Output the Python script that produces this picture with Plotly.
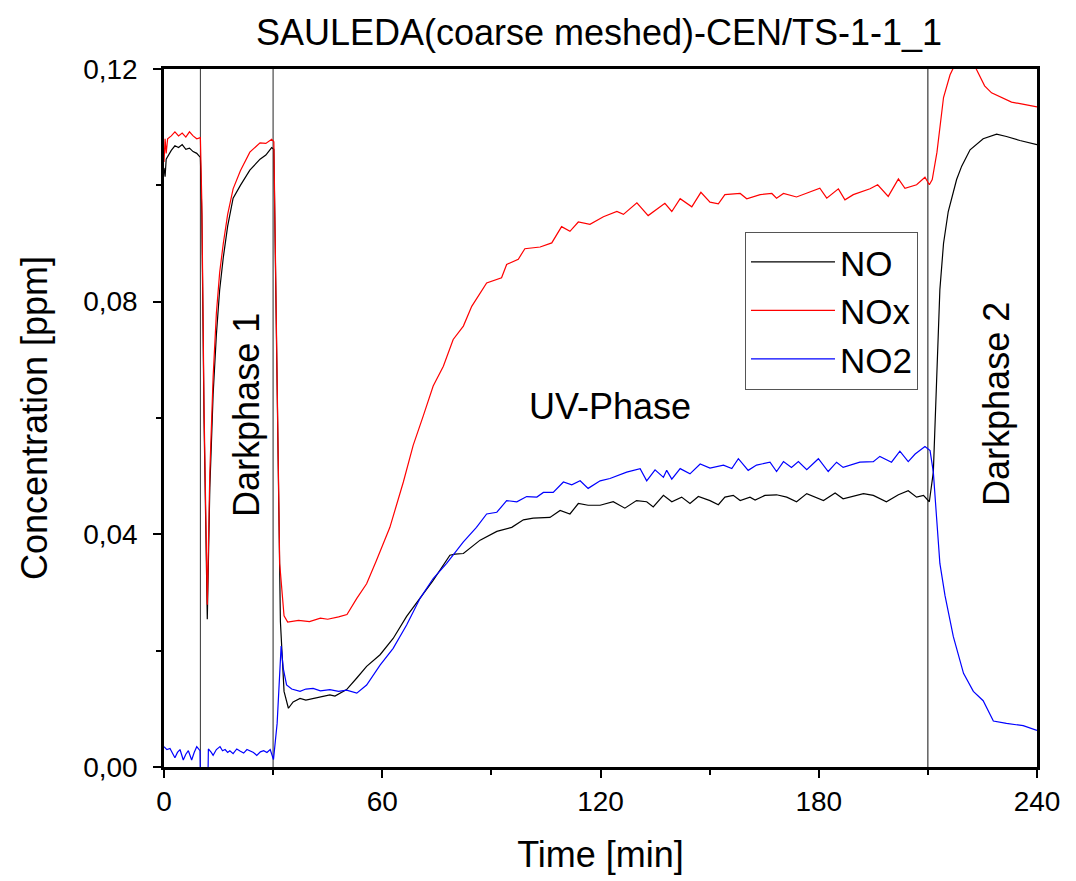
import plotly.graph_objects as go

# ---------------- data ----------------
t_no = [0, 0.3, 0.6, 1, 2, 3, 4, 5, 6, 7, 8, 9, 10, 10.4, 11, 11.9, 12.6, 13.5, 14.4, 15.3,
        16.3, 17.5, 19, 21, 23.6, 26.4, 28, 29.6, 30.2, 31, 32, 33, 34.2, 35.5, 37.4, 39, 41,
        43, 45.6, 47, 50.2, 53, 55.7, 59.4, 63, 66.7, 70.4, 74, 78.6, 80, 82.3, 86.9, 91.5,
        95.6, 98.8, 101.5, 106.1, 108.9, 111.6, 113.9, 116.6, 119.9, 123.5, 126.7, 129.9,
        132.7, 134.5, 137.3, 139.6, 142.3, 144.6, 146.9, 150.1, 152.4, 154.2, 156.5, 158.4,
        161.1, 162.5, 165.2, 168.4, 171.2, 173.9, 176.7, 181.3, 184.5, 186.7, 192.3, 195,
        198.6, 201.9, 204.6, 206.9, 208.8, 210.4, 211.5, 212.4, 213.3, 214.3, 215.6, 217.9,
        219.3, 221.6, 225.2, 228.9, 231.6, 235.3, 240]
no = [0.1030, 0.1015, 0.1045, 0.1050, 0.1060, 0.1068, 0.1065, 0.1070, 0.1062, 0.1064,
      0.1058, 0.1055, 0.1048, 0.0950, 0.0600, 0.0254, 0.0480, 0.0640, 0.0743, 0.0820,
      0.0876, 0.0930, 0.0978, 0.1000, 0.1026, 0.1045, 0.1052, 0.1065, 0.1062, 0.0700,
      0.0250, 0.0130, 0.0101, 0.0112, 0.0118, 0.0115, 0.0118, 0.0121, 0.0124, 0.0122,
      0.0133, 0.0153, 0.0173, 0.0193, 0.0221, 0.0259, 0.0290, 0.0321, 0.0364, 0.0366,
      0.0367, 0.0390, 0.0405, 0.0412, 0.0425, 0.0428, 0.0429, 0.0441, 0.0435, 0.0453,
      0.0450, 0.0450, 0.0456, 0.0445, 0.0458, 0.0456, 0.0447, 0.0467, 0.0456, 0.0464,
      0.0453, 0.0465, 0.0458, 0.0451, 0.0464, 0.0467, 0.0458, 0.0464, 0.0459, 0.0467,
      0.0468, 0.0464, 0.0456, 0.0470, 0.0458, 0.0471, 0.0461, 0.0470, 0.0467, 0.0456,
      0.0468, 0.0475, 0.0464, 0.0467, 0.0456, 0.0507, 0.0664, 0.0821, 0.0900, 0.0955,
      0.1010, 0.1033, 0.1061, 0.1080, 0.1088, 0.1084, 0.1077, 0.1070]

t_nox = [0, 0.3, 0.6, 1, 2, 3, 4, 5, 6, 7, 8, 9, 10, 10.4, 11, 11.9, 12.6, 13.5, 14.4, 15.3,
         16.3, 17.5, 19, 21, 23.6, 26.4, 28, 29.6, 30.2, 31, 31.8, 33, 34, 37, 40, 43, 45,
         48, 50.3, 53, 55.7, 58.4, 62.1, 65.8, 68.5, 71.3, 74, 76.8, 79.5, 82.3, 84.6, 88.7,
         92.8, 94.2, 97.4, 99.2, 103.4, 106.6, 109.3, 111.6, 113.9, 117.1, 120.8, 124.5,
         126.3, 130, 133.1, 137.7, 139.6, 141.9, 145.1, 147.6, 150.1, 152.4, 154.2, 158.4,
         160.2, 163.9, 167.1, 168.4, 170.3, 173.9, 178.1, 180.3, 182.2, 185.4, 187.2, 189.5,
         194.1, 196.2, 199.1, 201.9, 203.7, 206.9, 209.2, 210.4, 211.2, 212.5, 214.3, 216.1,
         218, 220, 222.9, 225.6, 227.5, 230.2, 233, 235.7, 238.5, 240]
nox = [0.1040, 0.1080, 0.1055, 0.1080, 0.1085, 0.1092, 0.1085, 0.1090, 0.1083, 0.1092,
       0.1085, 0.1080, 0.1082, 0.0970, 0.0620, 0.0279, 0.0507, 0.0670, 0.0780, 0.0850,
       0.0900, 0.0950, 0.0994, 0.1025, 0.1057, 0.1073, 0.1072, 0.1079, 0.1075, 0.0750,
       0.0350, 0.0260, 0.0249, 0.0252, 0.0250, 0.0256, 0.0254, 0.0258, 0.0262, 0.0290,
       0.0315, 0.0355, 0.0412, 0.0490, 0.0553, 0.0604, 0.0655, 0.0689, 0.0735, 0.0758,
       0.0792, 0.0832, 0.0841, 0.0864, 0.0873, 0.0891, 0.0894, 0.0901, 0.0929, 0.0921,
       0.0937, 0.0933, 0.0946, 0.0955, 0.0950, 0.0970, 0.0948, 0.0969, 0.0955, 0.0977,
       0.0963, 0.0988, 0.0971, 0.0968, 0.0984, 0.0986, 0.0977, 0.0984, 0.0986, 0.0978,
       0.0986, 0.0980, 0.0989, 0.0995, 0.0978, 0.0994, 0.0975, 0.0984, 0.0994, 0.1001,
       0.0981, 0.1011, 0.0995, 0.1001, 0.1014, 0.1001, 0.1010, 0.1057, 0.1151, 0.1190,
       0.1215, 0.1230, 0.1205, 0.1171, 0.1159, 0.1151, 0.1143, 0.1140, 0.1136, 0.1135]

t_no2 = [0, 0.8, 1.65, 2.4, 3, 3.7, 4.4, 5.3, 6, 6.7, 7.6, 8.3, 9, 9.9, 10.2, 11.9, 12.2, 13,
         13.5, 14.4, 15.4, 16.1, 16.8, 17.5, 18.1, 19, 20, 21, 21.9, 22.8, 23.7, 24.6, 25.5,
         26.5, 27.4, 28.3, 29.2, 30.1, 31.1, 32.2, 32.8, 33.7, 35.1, 37.4, 39, 41, 43, 45.6,
         48, 50.2, 53, 55.7, 59.4, 63, 66.7, 70.4, 74, 77.7, 82.3, 85.9, 88.7, 91.5, 94.2,
         97, 99.7, 102.5, 104.3, 107, 109.8, 112.1, 114.4, 116.6, 119.9, 122.6, 127.2,
         130.9, 132.7, 135, 137.3, 138.2, 139.6, 141.9, 144.6, 147.4, 150.1, 153.8, 156.1,
         157.9, 160.6, 162.9, 166.6, 168.4, 170.3, 172.5, 174.4, 176.7, 179.9, 182.6,
         184.9, 186.7, 191.3, 195, 196.8, 200, 202.3, 204.6, 206.5, 209.2, 210.6, 211.5,
         212.4, 213.3, 214.7, 217, 219.8, 222.5, 225.2, 228, 231.6, 236.2, 240]
no2 = [0.0035, 0.0030, 0.0032, 0.0022, 0.0016, 0.0025, 0.0030, 0.0012, 0.0022, 0.0028,
       0.0012, 0.0025, 0.0035, 0.0028, -0.0100, -0.0100, 0.0031, 0.0025, 0.0020, 0.0030,
       0.0035, 0.0028, 0.0030, 0.0025, 0.0028, 0.0023, 0.0031, 0.0027, 0.0024, 0.0030,
       0.0028, 0.0025, 0.0020, 0.0026, 0.0028, 0.0025, 0.0030, 0.0013, 0.0075, 0.0208,
       0.0169, 0.0141, 0.0134, 0.0130, 0.0134, 0.0135, 0.0131, 0.0133, 0.0130, 0.0132,
       0.0127, 0.0141, 0.0175, 0.0204, 0.0244, 0.0290, 0.0324, 0.0350, 0.0387, 0.0412,
       0.0435, 0.0438, 0.0458, 0.0456, 0.0465, 0.0464, 0.0472, 0.0472, 0.0490, 0.0485,
       0.0492, 0.0479, 0.0492, 0.0496, 0.0507, 0.0513, 0.0492, 0.0511, 0.0498, 0.0510,
       0.0495, 0.0513, 0.0504, 0.0521, 0.0514, 0.0519, 0.0513, 0.0530, 0.0510, 0.0519,
       0.0524, 0.0508, 0.0525, 0.0515, 0.0525, 0.0511, 0.0530, 0.0508, 0.0524, 0.0515,
       0.0524, 0.0525, 0.0534, 0.0524, 0.0543, 0.0525, 0.0538, 0.0551, 0.0544, 0.0507,
       0.0428, 0.0350, 0.0295, 0.0224, 0.0161, 0.0130, 0.0114, 0.0079, 0.0075, 0.0071,
       0.0063]

phase_boundaries = [10, 30, 210]
series_names = ["NO", "NOx", "NO2"]
x_ticks = [0, 60, 120, 180, 240]
y_ticks = [0, 0.04, 0.08, 0.12]

# ---------------- figure ----------------
FONT = "Liberation Sans, Arial, sans-serif"
BIG = 36
fig = go.Figure()
for name, tx, vals, col in [(series_names[0], t_no, no, "black"),
                            (series_names[1], t_nox, nox, "#ff0000"),
                            (series_names[2], t_no2, no2, "#0000ff")]:
    fig.add_trace(go.Scatter(x=tx, y=vals, mode="lines", name=name,
                             line=dict(color=col, width=1.2)))

for b, c, w in zip(phase_boundaries, ["#333333", "#777777", "#111111"], [1, 1.6, 1]):
    fig.add_vline(x=b, line=dict(color=c, width=w), layer="below")

fig.add_annotation(x=22.5, y=0.0605, text="Darkphase 1", textangle=-90, showarrow=False,
                   font=dict(size=BIG, color="black", family=FONT))
fig.add_annotation(x=122.5, y=0.0619, text="UV-Phase", showarrow=False,
                   font=dict(size=BIG, color="black", family=FONT))
fig.add_annotation(x=228.7, y=0.0624, text="Darkphase 2", textangle=-90, showarrow=False,
                   font=dict(size=BIG, color="black", family=FONT))

axis_common = dict(showline=True, linecolor="black", linewidth=2.5, mirror=True,
                   ticks="outside", ticklen=8, tickwidth=2, tickcolor="black",
                   showgrid=False, zeroline=False,
                   tickfont=dict(size=28, color="black", family=FONT))
fig.update_xaxes(range=[0, 240], tickvals=x_ticks, ticklabelstandoff=0,
                 minor=dict(ticks="outside", ticklen=5, tickwidth=1.5, dtick=30,
                            tick0=0, tickcolor="black", showgrid=False),
                 title=dict(text="Time [min]", font=dict(size=BIG, color="black", family=FONT),
                            standoff=26),
                 **axis_common)
fig.update_yaxes(range=[0, 0.12], tickvals=y_ticks, tickformat=".2f", ticklabelstandoff=10,
                 minor=dict(ticks="outside", ticklen=5, tickwidth=1.5, dtick=0.02,
                            tick0=0, tickcolor="black", showgrid=False),
                 title=dict(text="Concentration [ppm]",
                            font=dict(size=BIG, color="black", family=FONT), standoff=25),
                 **axis_common)

fig.update_layout(
    width=1068, height=873,
    separators=",.",
    paper_bgcolor="white", plot_bgcolor="white",
    margin=dict(l=156, r=39, t=61, b=112),
    title=dict(text="SAULEDA(coarse meshed)-CEN/TS-1-1_1", x=0.5534, xanchor="center",
               y=0.9725, yanchor="middle",
               font=dict(size=BIG, color="black", family=FONT)),
    legend=dict(x=0.6655, y=0.767, xanchor="left", yanchor="top",
                bordercolor="#555555", borderwidth=1, bgcolor="white",
                font=dict(size=35, color="black", family=FONT),
                itemwidth=84, tracegroupgap=0),
    font=dict(family=FONT, color="black"),
)

fig.write_html("out.html")
